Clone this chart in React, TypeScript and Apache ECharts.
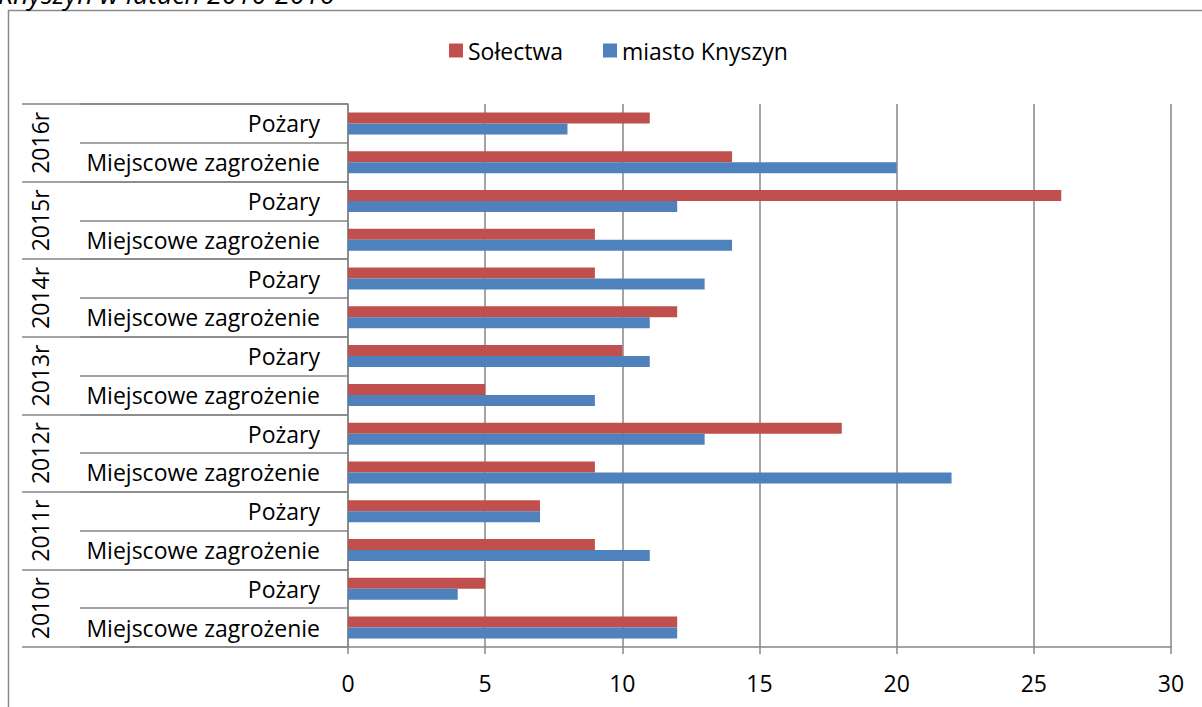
import React, { useEffect, useRef } from "react";
import * as echarts from "echarts";

const categories = [
  "Miejscowe zagrożenie", "Pożary", // 2010
  "Miejscowe zagrożenie", "Pożary", // 2011
  "Miejscowe zagrożenie", "Pożary", // 2012
  "Miejscowe zagrożenie", "Pożary", // 2013
  "Miejscowe zagrożenie", "Pożary", // 2014
  "Miejscowe zagrożenie", "Pożary", // 2015
  "Miejscowe zagrożenie", "Pożary", // 2016
];
const years = ["2010r", "2011r", "2012r", "2013r", "2014r", "2015r", "2016r"];
const solectwa = [12, 5, 9, 7, 9, 18, 5, 10, 12, 9, 9, 26, 14, 11];
const miasto = [12, 4, 11, 7, 22, 13, 9, 11, 11, 13, 14, 12, 20, 8];
const xTicks = { min: 0, max: 30, interval: 5 };
const titleText = "Knyszyn w latach 2010-2016";

const FONT = "'Open Sans', 'Noto Sans', sans-serif";
const GRAY = "#868686";
const FS = 23;

export default function App() {
  const ref = useRef<HTMLDivElement>(null);
  useEffect(() => {
    if (!ref.current) return;
    const chart = echarts.init(ref.current, null, { renderer: "svg" });
    chart.setOption({
      animation: false,
      textStyle: { fontFamily: FONT },
      graphic: [
        {
          type: "rect",
          shape: { x: 8.5, y: 10.5, width: 1300, height: 800 },
          style: { fill: "none", stroke: "#8a8a8a", lineWidth: 1.5 },
          silent: true,
        },
        {
          type: "text",
          x: -2,
          y: 7,
          style: {
            text: titleText,
            font: "italic 27px " + FONT,
            fill: "#000",
            textVerticalAlign: "bottom",
          },
          silent: true,
        },
      ],
      legend: {
        top: 34,
        left: 444,
        itemWidth: 14,
        itemHeight: 14,
        itemGap: 40,
        icon: "rect",
        textStyle: { fontSize: FS, color: "#000", fontFamily: FONT },
        data: ["Sołectwa", "miasto Knyszyn"],
      },
      grid: { left: 348, right: 31, top: 104, bottom: 60 },
      xAxis: {
        type: "value",
        min: xTicks.min,
        max: xTicks.max,
        interval: xTicks.interval,
        axisLine: { show: true, lineStyle: { color: GRAY, width: 1.5 } },
        axisTick: { show: true, length: 7, lineStyle: { color: GRAY, width: 1.5 } },
        splitLine: { show: true, lineStyle: { color: GRAY, width: 1.5 } },
        axisLabel: { fontSize: FS, color: "#000", margin: 24, fontFamily: FONT },
      },
      yAxis: [
        {
          type: "category",
          data: categories,
          axisLine: { show: true, lineStyle: { color: GRAY, width: 1.5 } },
          axisTick: { show: true, length: 268, interval: 0, lineStyle: { color: GRAY, width: 1.5 } },
          axisLabel: { fontSize: FS, color: "#000", margin: 28, interval: 0, fontFamily: FONT },
        },
        {
          type: "category",
          data: years,
          position: "left",
          axisLine: { show: false },
          axisTick: { show: true, length: 326, interval: 0, lineStyle: { color: GRAY, width: 1.5 } },
          axisLabel: { fontSize: FS, color: "#000", rotate: 90, margin: 297, interval: 0, fontFamily: FONT },
        },
      ],
      series: [
        {
          name: "Sołectwa",
          type: "bar",
          data: solectwa,
          barWidth: 11,
          barGap: "0%",
          itemStyle: { color: "#C0504D" },
        },
        {
          name: "miasto Knyszyn",
          type: "bar",
          data: miasto,
          barWidth: 11,
          barGap: "0%",
          itemStyle: { color: "#4F81BD" },
        },
      ],
    });
    return () => chart.dispose();
  }, []);
  return (
    <div
      ref={ref}
      style={{ position: "absolute", left: 0, top: 0, width: 1202, height: 707 }}
    />
  );
}
